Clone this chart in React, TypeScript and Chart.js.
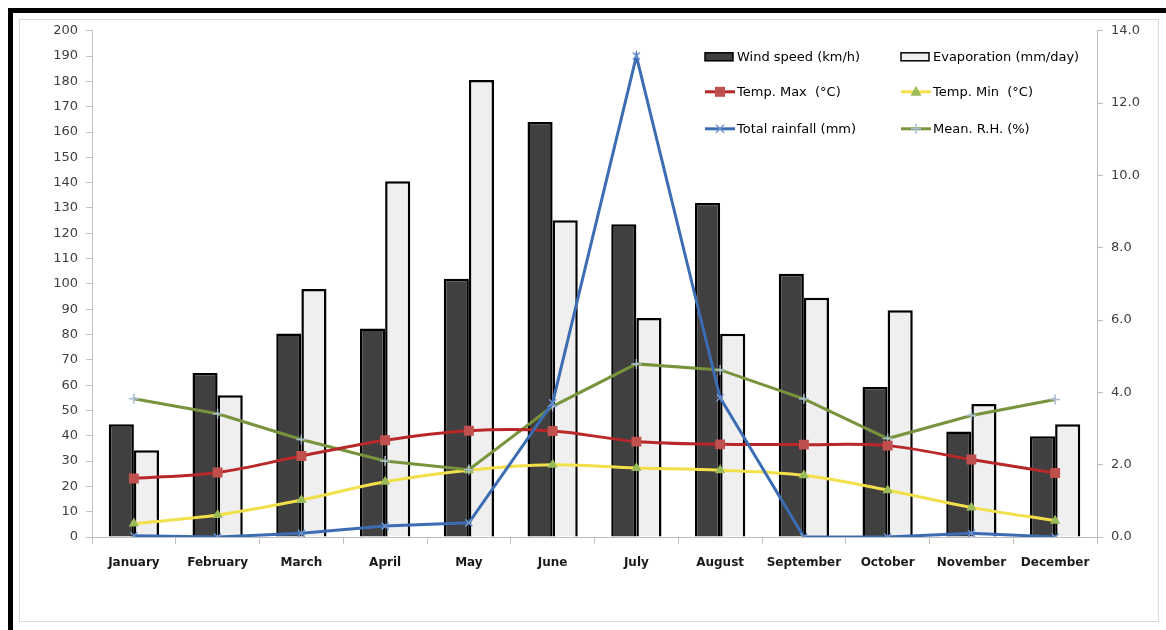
import React, { useEffect, useRef } from "react";
import { Chart, registerables } from "chart.js";

Chart.register(...registerables);

const months = ["January", "February", "March", "April", "May", "June", "July", "August", "September", "October", "November", "December"];
const windSpeed = [44.5, 64.8, 80.4, 82.4, 102, 164, 123.6, 132, 104, 59.3, 41.7, 39.8];
const evaporation = [2.4, 3.92, 6.86, 9.84, 12.64, 8.76, 6.06, 5.62, 6.62, 6.27, 3.68, 3.12];
const tempMax = [23.1, 25.5, 32.0, 38.2, 42.0, 41.9, 37.7, 36.6, 36.5, 36.1, 30.6, 25.3];
const tempMin = [5.3, 8.7, 14.6, 21.8, 26.4, 28.5, 27.3, 26.4, 24.4, 18.5, 11.7, 6.4];
const rainfall = [0.5, 0, 1.5, 4.3, 5.6, 53, 190, 55, 0, 0, 1.5, 0];
const meanRH = [54.6, 48.7, 38.5, 30.0, 26.6, 51.6, 68.4, 66.0, 54.6, 38.9, 48.0, 54.3];
const leftTicks = { min: 0, max: 200, step: 10 };
const rightTicks = { min: 0, max: 14, step: 2 };

const FONT = "'DejaVu Sans', Verdana, sans-serif";

function drawMarker(ctx: CanvasRenderingContext2D, style: string, x: number, y: number, fill: string, stroke: string) {
  ctx.save();
  ctx.fillStyle = fill;
  ctx.strokeStyle = stroke;
  ctx.lineWidth = 1.5;
  if (style === "rect") {
    ctx.fillRect(x - 5, y - 5, 10, 10);
  } else if (style === "triangle") {
    ctx.beginPath();
    ctx.moveTo(x, y - 6);
    ctx.lineTo(x + 5.5, y + 4);
    ctx.lineTo(x - 5.5, y + 4);
    ctx.closePath();
    ctx.fill();
  } else if (style === "crossRot") {
    ctx.beginPath();
    ctx.moveTo(x - 4, y - 4);
    ctx.lineTo(x + 4, y + 4);
    ctx.moveTo(x + 4, y - 4);
    ctx.lineTo(x - 4, y + 4);
    ctx.stroke();
  } else if (style === "cross") {
    ctx.beginPath();
    ctx.moveTo(x - 5, y);
    ctx.lineTo(x + 5, y);
    ctx.moveTo(x, y - 5);
    ctx.lineTo(x, y + 5);
    ctx.stroke();
  }
  ctx.restore();
}

const legendOrder = ["Wind speed (km/h)", "Evaporation (mm/day)", "Temp. Max  (°C)", "Temp. Min  (°C)", "Total rainfall (mm)", "Mean. R.H. (%)"];

const legendPlugin = {
  id: "customLegend",
  afterDraw(chart: any) {
    const ctx: CanvasRenderingContext2D = chart.ctx;
    const area = chart.chartArea;
    const ds = chart.data.datasets;
    const cols = [area.right - 392, area.right - 196];
    const rows = [area.top + 26, area.top + 61, area.top + 98];
    ctx.save();
    ctx.font = `13px ${FONT}`;
    ctx.textBaseline = "middle";
    ctx.textAlign = "left";
    legendOrder.forEach((label, i) => {
      const d = ds.find((q: any) => q.label === label);
      if (!d) return;
      const x = cols[i % 2];
      const y = rows[Math.floor(i / 2)];
      if (d.type === "bar") {
        ctx.fillStyle = d.backgroundColor;
        ctx.fillRect(x, y - 4, 28, 8);
        ctx.strokeStyle = "#000";
        ctx.lineWidth = 1.5;
        ctx.strokeRect(x, y - 4, 28, 8);
      } else {
        ctx.strokeStyle = d.borderColor;
        ctx.lineWidth = 3;
        ctx.beginPath();
        ctx.moveTo(x, y);
        ctx.lineTo(x + 30, y);
        ctx.stroke();
        drawMarker(ctx, d.pointStyle, x + 15, y, d.pointBackgroundColor, d.pointBorderColor);
      }
      ctx.fillStyle = "#000";
      ctx.fillText(d.label, x + 32, y + 0.5);
    });
    ctx.restore();
  },
};

export default function App() {
  const ref = useRef<HTMLCanvasElement | null>(null);
  useEffect(() => {
    if (!ref.current) return;
    const chart = new Chart(ref.current, {
      type: "bar",
      data: {
        labels: months,
        datasets: [
          {
            type: "line",
            label: "Total rainfall (mm)",
            data: rainfall,
            yAxisID: "y",
            borderColor: "#3c6db3",
            borderWidth: 3,
            tension: 0,
            pointStyle: "crossRot",
            pointRadius: 5,
            pointBorderWidth: 1.5,
            pointBackgroundColor: "#4f81bd",
            pointBorderColor: "#6f93cf",
            order: 1,
          } as any,
          {
            type: "line",
            label: "Temp. Max  (°C)",
            data: tempMax,
            yAxisID: "y",
            borderColor: "#b8282a",
            borderWidth: 3,
            tension: 0.35,
            pointStyle: "rect",
            pointRadius: 7,
            pointBorderWidth: 0,
            pointBackgroundColor: "#c0504d",
            pointBorderColor: "#c0504d",
            order: 2,
          },
          {
            type: "line",
            label: "Mean. R.H. (%)",
            data: meanRH,
            yAxisID: "y",
            borderColor: "#77933c",
            borderWidth: 3,
            tension: 0,
            pointStyle: "cross",
            pointRadius: 5,
            pointBorderWidth: 1.5,
            pointBackgroundColor: "#a9bcd3",
            pointBorderColor: "#a9bcd3",
            order: 3,
          },
          {
            type: "line",
            label: "Temp. Min  (°C)",
            data: tempMin,
            yAxisID: "y",
            borderColor: "#f2e04a",
            borderWidth: 3,
            tension: 0.35,
            pointStyle: "triangle",
            pointRadius: 6,
            pointBorderWidth: 0,
            pointBackgroundColor: "#9bbb59",
            pointBorderColor: "#9bbb59",
            order: 4,
          },
          {
            type: "bar",
            label: "Wind speed (km/h)",
            data: windSpeed,
            yAxisID: "y",
            backgroundColor: "#404040",
            borderColor: "#000000",
            borderWidth: 2.5,
            borderSkipped: "start",
            categoryPercentage: 0.6,
            barPercentage: 1,
            order: 10,
          },
          {
            type: "bar",
            label: "Evaporation (mm/day)",
            data: evaporation,
            yAxisID: "y1",
            backgroundColor: "#efefef",
            borderColor: "#000000",
            borderWidth: 2.5,
            borderSkipped: "start",
            categoryPercentage: 0.6,
            barPercentage: 1,
            order: 11,
          },
        ],
      },
      options: {
        animation: false,
        responsive: false,
        maintainAspectRatio: false,
        layout: { padding: { top: 0, left: 0, right: 0, bottom: 0 } },
        plugins: { legend: { display: false }, tooltip: { enabled: false } },
        scales: {
          x: {
            offset: true,
            grid: { offset: true, drawOnChartArea: false, drawTicks: true, tickLength: 7, color: "#bfbfbf" },
            border: { color: "#bfbfbf", width: 1 },
            ticks: { color: "#1a1a1a", font: { family: FONT, size: 12, weight: "bold" }, padding: 12 },
            afterFit: (s: any) => { s.height = 84; },
          },
          y: {
            position: "left",
            min: leftTicks.min,
            max: leftTicks.max,
            ticks: { stepSize: leftTicks.step, color: "#404040", font: { family: FONT, size: 13 }, padding: 8 },
            grid: { drawOnChartArea: false, drawTicks: true, tickLength: 6, color: "#bfbfbf" },
            border: { color: "#bfbfbf", width: 1 },
            afterFit: (s: any) => { s.width = 72; },
          },
          y1: {
            position: "right",
            min: rightTicks.min,
            max: rightTicks.max,
            ticks: { stepSize: rightTicks.step, color: "#404040", font: { family: FONT, size: 13 }, padding: 8, callback: (v: any) => Number(v).toFixed(1) },
            grid: { drawOnChartArea: false, drawTicks: true, tickLength: 6, color: "#bfbfbf" },
            border: { color: "#bfbfbf", width: 1 },
            afterFit: (s: any) => { s.width = 61; },
          },
        },
      },
      plugins: [legendPlugin],
    });
    return () => chart.destroy();
  }, []);

  return (
    <div
      style={{
        position: "fixed",
        left: 8,
        top: 8,
        width: 1158,
        height: 622,
        boxSizing: "border-box",
        borderTop: "5px solid #000",
        borderLeft: "5px solid #000",
        background: "#fff",
      }}
    >
      <div
        style={{
          position: "absolute",
          left: 6,
          top: 6,
          width: 1140,
          height: 603,
          boxSizing: "border-box",
          border: "1px solid #d9d9d9",
        }}
      >
        <canvas
          ref={ref}
          width={1138}
          height={606}
          style={{ display: "block", position: "absolute", left: 0, top: -5, width: 1138, height: 606 }}
        />
      </div>
    </div>
  );
}
